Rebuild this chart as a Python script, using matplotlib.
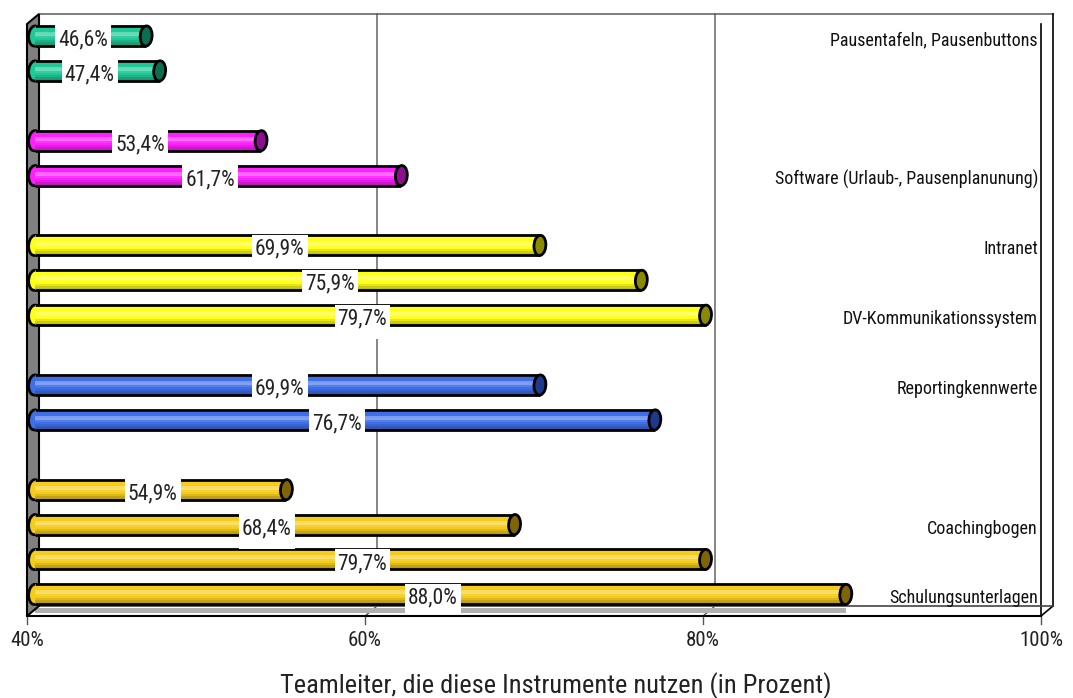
import matplotlib
matplotlib.use('Agg')
import matplotlib.pyplot as plt
import matplotlib.patches as mpatches
import matplotlib.colors as mcolors
import numpy as np

# --- data ---
values = [46.6, 47.4, 53.4, 61.7, 69.9, 75.9, 79.7, 69.9, 76.7, 54.9, 68.4, 79.7, 88.0]
slots = [0, 1, 3, 4, 6, 7, 8, 10, 11, 13, 14, 15, 16]
groups = [0, 0, 1, 1, 2, 2, 2, 3, 3, 4, 4, 4, 4]
value_labels = ['46,6%', '47,4%', '53,4%', '61,7%', '69,9%', '75,9%', '79,7%',
                '69,9%', '76,7%', '54,9%', '68,4%', '79,7%', '88,0%']
face_colors = ['#1fc896', '#ff1fff', '#ffff1a', '#3f6fe8', '#f5cc1c']
cap_colors = ['#0b6e52', '#8c0f8c', '#8a8a00', '#1f3a8a', '#7f6508']
cat_labels = ['Pausentafeln, Pausenbuttons', 'Software (Urlaub-, Pausenplanunung)',
              'Intranet', 'DV-Kommunikationssystem', 'Reportingkennwerte',
              'Coachingbogen', 'Schulungsunterlagen']
cat_slots = [0, 4, 6, 8, 10, 14, 16]
x_ticks = [40, 60, 80, 100]
x_tick_labels = ['40%', '60%', '80%', '100%']
title = 'Teamleiter, die diese Instrumente nutzen (in Prozent)'

FONT = ['Roboto Condensed', 'Barlow Condensed', 'Archivo Narrow', 'DejaVu Sans']
plt.rcParams['font.family'] = FONT

# pixel scale of the layout
PX_X = 16.9      # px per percent
PX_Y = 34.9      # px per slot
XMIN, XMAX = 40, 100
DX = 12 / PX_X   # depth offset
DY = -10 / PX_Y
TOP = -12 / PX_Y
FLOOR = 580 / PX_Y

fig = plt.figure(figsize=(10.73, 6.98), dpi=100)
ax = fig.add_axes([0, 0, 1, 1])
ax.set_xlim(40 - 27 / PX_X, 100 + 32 / PX_X)
ax.set_ylim((698 - 36) / PX_Y, -36 / PX_Y)
ax.axis('off')

# 3d frame
ax.plot([XMIN + DX, XMAX + DX], [TOP + DY, TOP + DY], color='#666666', lw=1.2, zorder=1)
ax.plot([XMAX + DX, XMAX + DX], [TOP + DY, FLOOR + DY], color='black', lw=1.2, zorder=1)
ax.plot([XMAX, XMAX], [TOP, FLOOR], color='black', lw=1.2, zorder=1)
ax.plot([XMAX, XMAX + DX], [FLOOR, FLOOR + DY], color='black', lw=1.2, zorder=1)
ax.plot([XMIN + DX, XMAX + DX], [FLOOR + DY, FLOOR + DY], color='#444444', lw=1.2, zorder=1)
ax.plot([XMIN, XMAX], [FLOOR, FLOOR], color='black', lw=1.5, zorder=7)
for xt in x_ticks[1:-1]:
    ax.plot([xt, xt + DX, xt + DX], [FLOOR, FLOOR + DY, TOP + DY], color='#555555', lw=1, zorder=1)
for xt, lab in zip(x_ticks, x_tick_labels):
    ax.plot([xt, xt], [FLOOR, FLOOR + 8 / PX_Y], color='#555555', lw=1, zorder=1)
    ax.text(xt, FLOOR + 25 / PX_Y, lab, ha='center', va='center', fontsize=15, color='#222222')

wall = mpatches.Polygon([(XMIN, TOP), (XMIN + DX, TOP + DY), (XMIN + DX, FLOOR + DY), (XMIN, FLOOR)],
                        closed=True, facecolor='#808080', edgecolor='black', lw=1.5, zorder=2)
ax.add_patch(wall)

# cylinders
H = 20 / PX_Y
CAPW = 12 / PX_X
OFF = 0.45
ANG = -10
light = np.array([0.55, 0.0, 0.0, 0.3, 0.35, 0.1, 0.0, -0.1, -0.2, -0.25])
for v, s, g in zip(values, slots, groups):
    base = np.array(mcolors.to_rgb(face_colors[g]))
    x0 = XMIN + OFF
    x1 = v + OFF
    # faint shadow of the bar on the floor
    ax.barh(FLOOR - 6 / PX_Y, x1 - x0, height=5 / PX_Y, left=x0, color='#b0b0b0',
            edgecolor='none', zorder=1.5)
    left = mpatches.Ellipse((x0, s), CAPW, H, angle=ANG, facecolor=face_colors[g],
                            edgecolor='black', lw=2, zorder=3)
    ax.add_patch(left)
    n = len(light)
    for i, f in enumerate(light):
        if f >= 0:
            c = base + (1 - base) * f
        else:
            c = base * (1 + f)
        ax.barh(s - H / 2 + (i + 0.5) * H / n, x1 - x0, height=H / n * 1.02, left=x0,
                color=np.clip(c, 0, 1), edgecolor='none', zorder=3.1)
    ax.plot([x0, x1], [s - H / 2, s - H / 2], color='black', lw=2, zorder=3.2, solid_capstyle='butt')
    ax.plot([x0, x1], [s + H / 2, s + H / 2], color='black', lw=2, zorder=3.2, solid_capstyle='butt')
    cap = mpatches.Ellipse((x1, s), CAPW, H, angle=ANG, facecolor=cap_colors[g],
                           edgecolor='black', lw=2, zorder=3.3)
    ax.add_patch(cap)

# value labels with tall white boxes
texts = []
for v, s, lab in zip(values, slots, value_labels):
    t = ax.text((XMIN + v) / 2, s + 4 / PX_Y, lab, ha='center', va='center',
                fontsize=15.5, color='#222222', zorder=6)
    texts.append((t, s))
fig.canvas.draw()
inv = ax.transData.inverted()
for t, s in texts:
    bb = t.get_window_extent()
    (xa, _), (xb, _) = inv.transform([(bb.x0, 0), (bb.x1, 0)])
    bottom = min(s + 24 / PX_Y, FLOOR - 2 / PX_Y)
    rect = mpatches.Rectangle((xa - 3 / PX_X, s - 10.5 / PX_Y), (xb - xa) + 6 / PX_X,
                              bottom - (s - 10.5 / PX_Y),
                              facecolor='white', edgecolor='none', zorder=5)
    ax.add_patch(rect)

# category labels
for lab, s in zip(cat_labels, cat_slots):
    ax.text(XMAX - 3 / PX_X, s + 4 / PX_Y, lab, ha='right', va='center', fontsize=13,
            color='#111111', zorder=6)

ax.text(40 + (556 - 27) / PX_X, (686 - 36) / PX_Y, title, ha='center', va='center',
        fontsize=19, color='#222222')

fig.savefig('out.png', dpi=100)
